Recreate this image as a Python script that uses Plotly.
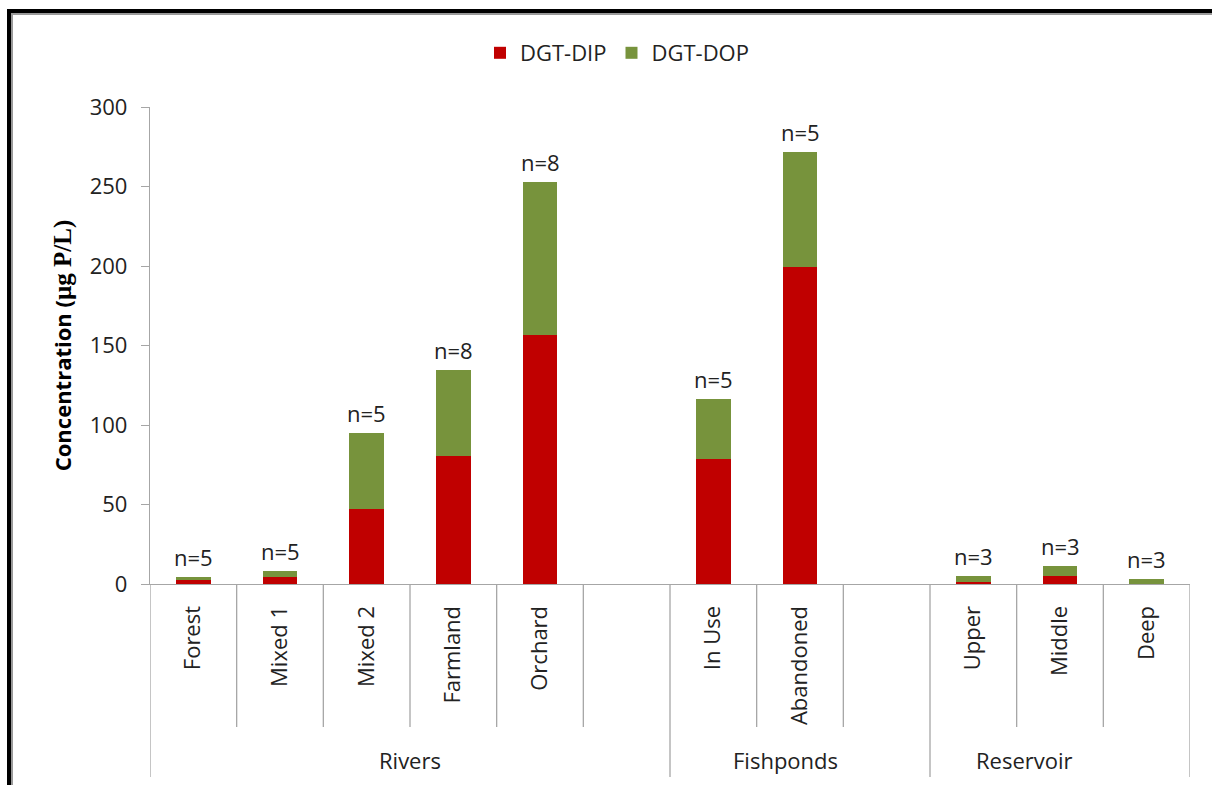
import plotly.graph_objects as go

# ---- data ----
categories = ["Forest", "Mixed 1", "Mixed 2", "Farmland", "Orchard", "blank1",
              "In Use", "Abandoned", "blank2", "Upper", "Middle", "Deep"]
tick_labels = ["Forest", "Mixed 1", "Mixed 2", "Farmland", "Orchard", "",
               "In Use", "Abandoned", "", "Upper", "Middle", "Deep"]
dgt_dip = [2.8, 4.2, 47.0, 80.5, 156.6, None, 78.6, 199.6, None, 1.3, 5.2, 0.3]
dgt_dop = [1.4, 4.0, 48.0, 54.1, 96.2, None, 37.8, 72.3, None, 3.7, 6.3, 3.0]
n_labels = ["n=5", "n=5", "n=5", "n=8", "n=8", "", "n=5", "n=5", "", "n=3", "n=3", "n=3"]
groups = ["Rivers", "Fishponds", "Reservoir"]
group_bounds = [(-0.5, 5.5), (5.5, 8.5), (8.5, 11.5)]
series_names = ["DGT-DIP", "DGT-DOP"]
series_colors = ["#C00000", "#77933C"]

totals = [(a or 0) + (b or 0) if a is not None else None for a, b in zip(dgt_dip, dgt_dop)]

W, H = 1212, 785
L, R, T, B = 150, 1190, 107, 584
FONT = "Open Sans"
TXT = "#222222"
GRAY = "#A6A6A6"
FS = 22

def px2x(px):
    return (px - L) / (R - L)

def px2y(py):
    return (B - py) / (B - T)

fig = go.Figure()
for name, vals, col in zip(series_names, [dgt_dip, dgt_dop], series_colors):
    fig.add_trace(go.Bar(x=categories, y=vals, name=name, showlegend=False,
                         marker=dict(color=col, line=dict(width=0))))
# legend entries with larger square symbols
for name, col in zip(series_names, series_colors):
    fig.add_trace(go.Scatter(x=[None], y=[None], mode="markers", name=name,
                             marker=dict(symbol="square", size=16, color=col)))

shapes = []
for i in range(len(categories) + 1):
    xpos = i - 0.5
    is_group = any(abs(xpos - b[0]) < 1e-9 or abs(xpos - b[1]) < 1e-9 for b in group_bounds)
    y1 = px2y(777) if is_group else px2y(727)
    shapes.append(dict(type="line", xref="x", yref="paper", x0=xpos, x1=xpos,
                       y0=0, y1=y1, line=dict(color=GRAY, width=1.3)))

# outer frame (top / left)
shapes.append(dict(type="line", xref="paper", yref="paper", x0=px2x(7), x1=px2x(1215),
                   y0=px2y(11), y1=px2y(11), line=dict(color="black", width=4)))
shapes.append(dict(type="line", xref="paper", yref="paper", x0=px2x(11), x1=px2x(1215),
                   y0=px2y(14), y1=px2y(14), line=dict(color="#9A9A9A", width=2)))
shapes.append(dict(type="line", xref="paper", yref="paper", x0=px2x(9), x1=px2x(9),
                   y0=px2y(9), y1=px2y(790), line=dict(color="black", width=4)))
shapes.append(dict(type="line", xref="paper", yref="paper", x0=px2x(12), x1=px2x(12),
                   y0=px2y(13), y1=px2y(790), line=dict(color="#9A9A9A", width=2)))

annotations = []
# n labels above stacked bars
for cat, tot, lab in zip(categories, totals, n_labels):
    if tot is None or not lab:
        continue
    annotations.append(dict(text=lab, x=cat, y=tot, xref="x", yref="y",
                            showarrow=False, xanchor="center", yanchor="bottom", yshift=3,
                            font=dict(size=FS, color=TXT, family=FONT)))
group_label_px = [410, 785, 1024]
for g, gx in zip(groups, group_label_px):
    annotations.append(dict(text=g, xref="paper", yref="paper", x=px2x(gx), y=px2y(760),
                            showarrow=False, xanchor="center", yanchor="middle",
                            font=dict(size=FS, color=TXT, family=FONT)))

fig.update_layout(
    width=W, height=H,
    margin=dict(l=L, r=W - R, t=T, b=H - B),
    paper_bgcolor="white", plot_bgcolor="white",
    barmode="stack", bargap=0.6,
    font=dict(family=FONT, size=FS, color=TXT),
    legend=dict(orientation="h", x=px2x(617), xanchor="center", y=px2y(53), yanchor="middle",
                font=dict(size=FS, color=TXT, family=FONT),
                traceorder="normal", itemsizing="constant"),
    shapes=shapes,
    annotations=annotations,
    xaxis=dict(type="category", categoryorder="array", categoryarray=categories,
               tickvals=categories, ticktext=tick_labels, tickangle=-90,
               showline=True, linecolor=GRAY, linewidth=1.3, showgrid=False,
               ticks="", ticklabelstandoff=12, range=[-0.5, 11.5],
               tickfont=dict(size=FS, color=TXT, family=FONT)),
    yaxis=dict(range=[0, 300], tickvals=[0, 50, 100, 150, 200, 250, 300],
               showline=True, linecolor=GRAY, linewidth=1.3, showgrid=False,
               zeroline=False, ticks="outside", ticklen=8, tickcolor=GRAY, tickwidth=1.3,
               ticklabelstandoff=9,
               tickfont=dict(size=FS, color=TXT, family=FONT),
               title=dict(text="<b>Concentration (</b><span style='font-family:Liberation Serif;font-size:25px'><b>µg P/L)</b></span>",
                          font=dict(size=22, color="black", family=FONT), standoff=12)),
)

fig.write_html("out.html", config={"displayModeBar": False},
               post_script="document.body.style.margin='0';document.body.style.overflow='hidden';")
